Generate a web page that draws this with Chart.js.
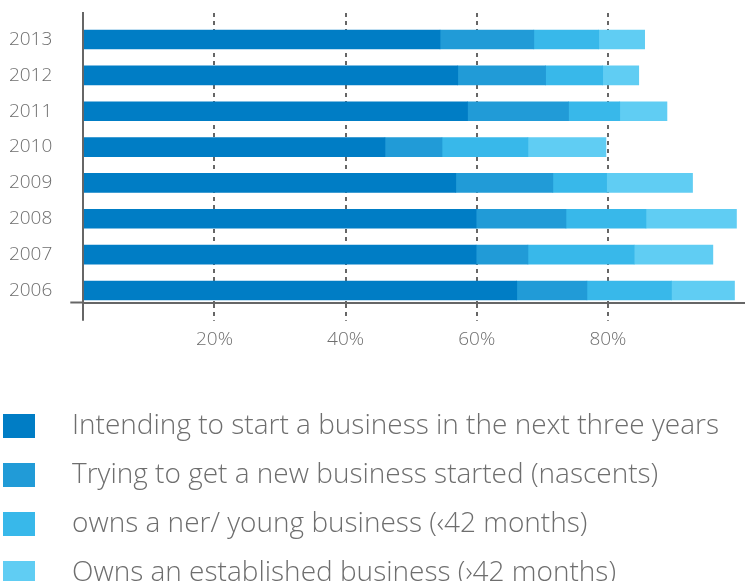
<!DOCTYPE html>
<html>
<head>
<meta charset="utf-8">
<script src="https://cdn.jsdelivr.net/npm/chart.js@4.4.0/dist/chart.umd.min.js"></script>
<style>
html,body{margin:0;padding:0;background:#ffffff;}
#wrap{width:745px;height:581px;overflow:hidden;}
canvas{display:block;}
</style>
</head>
<body>
<div id="wrap"><canvas id="c" width="745" height="581"></canvas></div>
<script>
// ---- data (% of respondents) ----
const years = [2013, 2012, 2011, 2010, 2009, 2008, 2007, 2006];
const intending   = [54.4, 57.1, 58.6, 46.0, 56.8, 59.9, 59.9, 66.1];
const nascents    = [14.3, 13.4, 15.4,  8.7, 14.8, 13.7,  7.9, 10.7];
const youngBiz    = [ 9.9,  8.7,  7.8, 13.1,  8.2, 12.2, 16.2, 12.9];
const established = [ 7.0,  5.5,  7.2, 11.9, 13.1, 13.8, 12.0,  9.6];
const seriesNames = [
  'Intending to start a business in the next three years',
  'Trying to get a new business started (nascents)',
  'owns a ner/ young business (‹42 months)',
  'Owns an established business (›42 months)'
];
const seriesValues = [intending, nascents, youngBiz, established];
const seriesColors = ['#007DC5', '#219BD7', '#38B8EA', '#60CDF3'];
const xTickValues = [0, 20, 40, 60, 80];

const TEXT = '#6e6e6e';
const AXIS = '#666666';
const FONT = '"Open Sans", Lato, sans-serif';

Chart.defaults.font.family = FONT;
Chart.defaults.font.weight = 300;
Chart.defaults.color = TEXT;

function swatch(color) {
  const c = document.createElement('canvas');
  c.width = 73; c.height = 24;
  const g = c.getContext('2d');
  g.fillStyle = color;
  g.fillRect(0, 0, 32, 24);
  return c;
}

const datasets = seriesValues.map((vals, i) => ({
  label: seriesNames[i],
  data: years.map((y, j) => ({ x: vals[j], y: y })),
  backgroundColor: seriesColors[i],
  borderWidth: 0,
  barThickness: 19
}));

new Chart(document.getElementById('c'), {
  type: 'bar',
  data: { datasets },
  options: {
    indexAxis: 'y',
    responsive: false,
    animation: false,
    layout: { padding: { left: 0, right: 0, top: 13, bottom: -16 } },
    scales: {
      x: {
        type: 'linear',
        stacked: true,
        min: 0,
        max: 100.9,
        afterBuildTicks: s => { s.ticks = xTickValues.map(v => ({ value: v })); },
        afterFit: s => { s.height = 88.3; s.paddingLeft = 0; s.paddingRight = 0; },
        ticks: {
          autoSkip: false,
          maxRotation: 0,
          padding: 7,
          color: TEXT,
          font: { size: 19, weight: 300 },
          callback: v => (v === 0 ? '' : v + '%')
        },
        grid: {
          drawOnChartArea: true,
          color: c => (c.tick && c.tick.value === 0 ? 'rgba(0,0,0,0)' : AXIS),
          lineWidth: 2,
          drawTicks: true,
          tickLength: 18,
          tickWidth: 2,
          tickColor: AXIS,
          tickBorderDash: c => (c.tick && c.tick.value === 0 ? [] : [4, 4])
        },
        border: { display: true, color: AXIS, width: 2, dash: [4, 4] }
      },
      y: {
        type: 'linear',
        stacked: true,
        offset: false,
        min: 2005.66,
        max: 2013.739,
        afterBuildTicks: s => { s.ticks = [{ value: s.min }].concat(years.map(v => ({ value: v }))); },
        afterFit: s => { s.width = 83.3; s.paddingTop = 0; s.paddingBottom = 0; },
        ticks: {
          autoSkip: false,
          crossAlign: 'near',
          padding: 18,
          color: TEXT,
          font: { size: 19, weight: 300 },
          callback: v => (years.includes(v) ? String(v) : '')
        },
        grid: {
          offset: false,
          drawOnChartArea: false,
          drawTicks: true,
          tickLength: 13,
          tickWidth: 2,
          tickColor: c => (c.tick && !years.includes(c.tick.value) ? AXIS : 'rgba(0,0,0,0)')
        },
        border: { display: true, color: AXIS, width: 2 }
      }
    },
    plugins: {
      tooltip: { enabled: false },
      legend: {
        position: 'bottom',
        align: 'start',
        labels: {
          usePointStyle: true,
          pointStyleWidth: 37,
          padding: 21,
          color: TEXT,
          font: { size: 28, weight: 300 },
          generateLabels: chart => chart.data.datasets.map((ds, i) => ({
            text: ds.label,
            fillStyle: ds.backgroundColor,
            strokeStyle: ds.backgroundColor,
            lineWidth: 0,
            pointStyle: swatch(ds.backgroundColor),
            hidden: false,
            datasetIndex: i,
            fontColor: TEXT
          }))
        }
      }
    }
  }
});
</script>
</body>
</html>
